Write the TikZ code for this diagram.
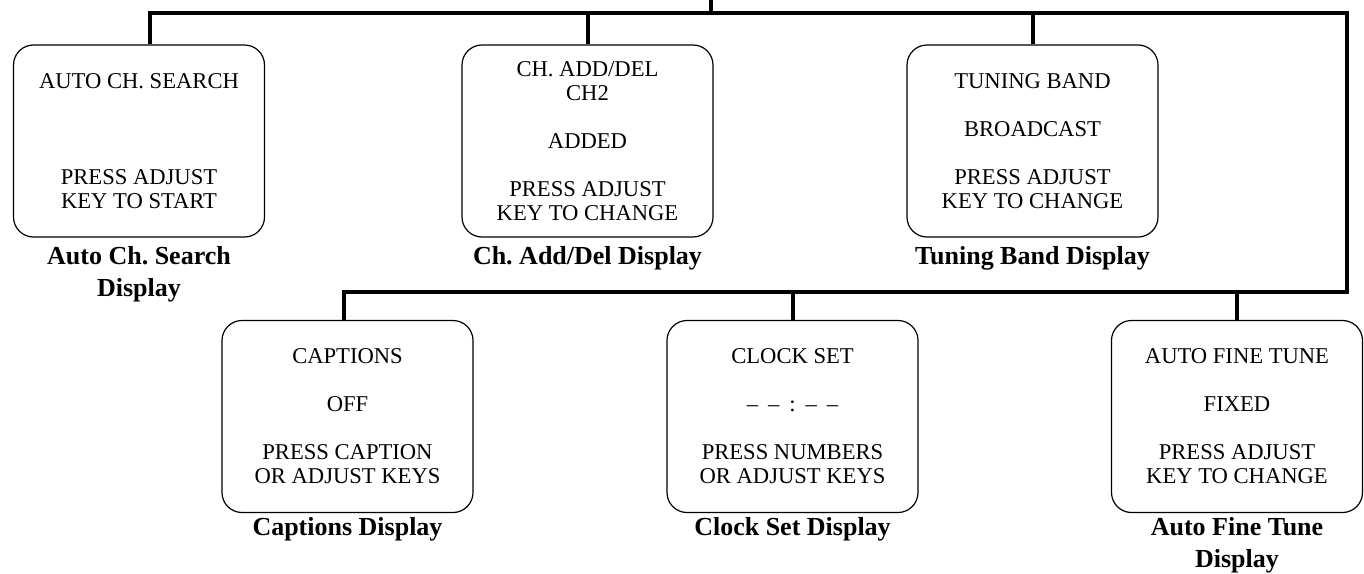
\documentclass[tikz,border=0pt]{standalone}
\usepackage{fontspec}
\setmainfont{Liberation Serif}
\usetikzlibrary{positioning}
\frenchspacing
\tikzset{
  dispbox/.style={draw, rounded corners=10pt, line width=0.6pt,
                  minimum width=125.5pt, minimum height=96pt, inner sep=0pt,
                  align=center, font=\fontsize{11.3}{12}\selectfont},
  displab/.style={inner sep=0pt, align=center,
                  font=\fontsize{13}{16}\selectfont\bfseries},
  bus/.style={line width=2pt, line join=miter}
}
\newcommand{\dgap}{\hspace{5pt}}

\begin{document}
\begin{tikzpicture}[x=0.5pt, y=-0.5pt]
  \useasboundingbox (0,0) rectangle (1364,573);
  % top row of displays
  \node[dispbox] (srch) at (139,141) {AUTO CH. SEARCH\\[36pt]PRESS ADJUST\\KEY TO START};
  \node[dispbox] (addl) at (587.5,141) {CH. ADD/DEL\\CH2\\[12pt]ADDED\\[12pt]PRESS ADJUST\\KEY TO CHANGE};
  \node[dispbox] (tune) at (1032.5,141) {TUNING BAND\\[12pt]BROADCAST\\[12pt]PRESS ADJUST\\KEY TO CHANGE};
  % bottom row of displays
  \node[dispbox] (capt) at (347.5,416.5) {CAPTIONS\\[12pt]OFF\\[12pt]PRESS CAPTION\\OR ADJUST KEYS};
  \node[dispbox] (clck) at (792.5,416.5) {CLOCK SET\\[12pt]--\dgap--\dgap:\dgap--\dgap--\\[12pt]PRESS NUMBERS\\OR ADJUST KEYS};
  \node[dispbox] (fine) at (1237,416.5) {AUTO FINE TUNE\\[12pt]FIXED\\[12pt]PRESS ADJUST\\KEY TO CHANGE};
  % captions
  \node[displab, below=4pt of srch] (srchlab) {Auto Ch. Search\\Display};
  \node[displab, below=4pt of addl] (addllab) {Ch. Add/Del Display};
  \node[displab, below=4pt of tune] (tunelab) {Tuning Band Display};
  \node[displab, below=2pt of capt] (captlab) {Captions Display};
  \node[displab, below=2pt of clck] (clcklab) {Clock Set Display};
  \node[displab, below=2pt of fine] (finelab) {Auto Fine Tune\\Display};
  % bus lines
  \coordinate (feed) at (711,0);
  \coordinate (tl) at (150,13);
  \coordinate (tr) at (1347,13);
  \coordinate (br) at (1347,292);
  \coordinate (bl) at (344,292);
  \draw[bus] (srch.north -| tl) -- (tl) -- (tr) -- (br) -- (bl) -- (capt.north -| bl);
  \draw[bus] (feed) -- (feed |- tl);
  \draw[bus] (addl.north) -- (addl.north |- tl);
  \draw[bus] (tune.north) -- (tune.north |- tl);
  \draw[bus] (clck.north) -- (clck.north |- bl);
  \draw[bus] (fine.north) -- (fine.north |- bl);
\end{tikzpicture}
\end{document}
